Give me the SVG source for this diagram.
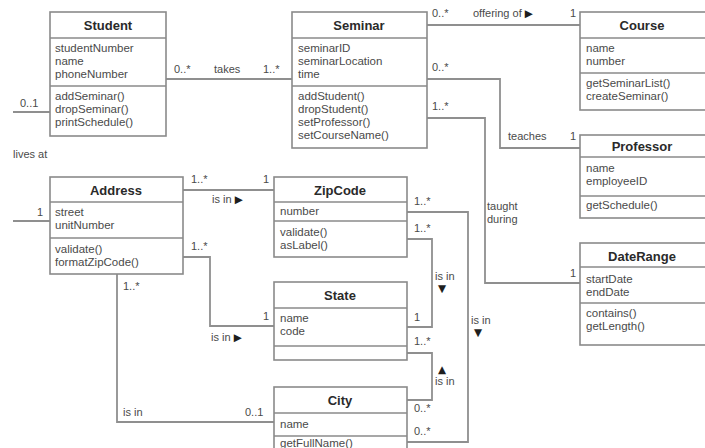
<svg xmlns="http://www.w3.org/2000/svg" width="705" height="448" viewBox="0 0 705 448">
  <style>
    .box { fill: #ffffff; stroke: #8a8a8a; stroke-width: 1.6; }
    .sep { stroke: #8a8a8a; stroke-width: 1.6; }
    .title { font-family: "Liberation Sans", "DejaVu Sans", sans-serif; font-weight: bold; font-size: 13px; fill: #2a2a2a; text-anchor: middle; }
    .txt { font-family: "Liberation Sans", "DejaVu Sans", sans-serif; font-size: 11.5px; fill: #4a4a4a; }
    .lbl { font-family: "Liberation Sans", "DejaVu Sans", sans-serif; font-size: 11px; fill: #4a4a4a; }
    .arw { font-family: "DejaVu Sans", sans-serif; font-size: 10.5px; fill: #1e1e1e; }
    .conn { fill: none; stroke: #8f8f8f; stroke-width: 1.8; }
  </style>

  <rect width="705" height="448" fill="#ffffff"/>

  <!-- associations -->
  <g id="connectors">
    <path class="conn" d="M166,79 H292"/>
    <path class="conn" d="M13,112 H50"/>
    <path class="conn" d="M13,221 H50"/>
    <path class="conn" d="M427,25 H580"/>
    <path class="conn" d="M427,79 H500 V148 H580"/>
    <path class="conn" d="M427,118 H485 V283 H580"/>
    <path class="conn" d="M183,190 H274" stroke-width="2.6"/>
    <path class="conn" d="M183,257 H210 V326 H274"/>
    <path class="conn" d="M117,274 V422 H274"/>
    <path class="conn" d="M407,239 H432 V327 H407"/>
    <path class="conn" d="M407,353 H432 V400 H407"/>
    <path class="conn" d="M407,212 H468 V442 H407"/>

    <!-- multiplicities and role names -->
    <text class="lbl" x="174" y="73">0..*</text>
    <text class="lbl" x="214" y="73">takes</text>
    <text class="lbl" x="263" y="73">1..*</text>
    <text class="lbl" x="20" y="107">0..1</text>
    <text class="lbl" x="13" y="158">lives at</text>
    <text class="lbl" x="37" y="216">1</text>

    <text class="lbl" x="191" y="183">1..*</text>
    <text class="lbl" x="263" y="183">1</text>
    <text class="lbl" x="212" y="203">is in <tspan class="arw">▶</tspan></text>
    <text class="lbl" x="191" y="250">1..*</text>
    <text class="lbl" x="263" y="320">1</text>
    <text class="lbl" x="211" y="341">is in <tspan class="arw">▶</tspan></text>
    <text class="lbl" x="123" y="290">1..*</text>
    <text class="lbl" x="123" y="416">is in</text>
    <text class="lbl" x="245" y="416">0..1</text>

    <text class="lbl" x="414" y="205">1..*</text>
    <text class="lbl" x="414" y="232">1..*</text>
    <text class="lbl" x="435" y="280">is in</text>
    <text class="arw" x="438" y="292">▼</text>
    <text class="lbl" x="414" y="321">1</text>
    <text class="lbl" x="414" y="345">1..*</text>
    <text class="arw" x="438" y="373">▲</text>
    <text class="lbl" x="435" y="385">is in</text>
    <text class="lbl" x="471" y="324">is in</text>
    <text class="arw" x="474" y="336">▼</text>
    <text class="lbl" x="414" y="412">0..*</text>
    <text class="lbl" x="414" y="435">0..*</text>

    <text class="lbl" x="432" y="17">0..*</text>
    <text class="lbl" x="473" y="17">offering of <tspan class="arw">▶</tspan></text>
    <text class="lbl" x="570" y="17">1</text>
    <text class="lbl" x="432" y="71">0..*</text>
    <text class="lbl" x="432" y="110">1..*</text>
    <text class="lbl" x="508" y="140">teaches</text>
    <text class="lbl" x="570" y="140">1</text>
    <text class="lbl" x="487" y="210">taught</text>
    <text class="lbl" x="487" y="223">during</text>
    <text class="lbl" x="570" y="277">1</text>
  </g>

  <g id="student">
    <rect class="box" x="50" y="12" width="116" height="124"/>
    <line class="sep" x1="50" y1="38" x2="166" y2="38"/>
    <line class="sep" x1="50" y1="86" x2="166" y2="86"/>
    <text class="title" x="108" y="30">Student</text>
    <text class="txt" x="55" y="52">studentNumber</text>
    <text class="txt" x="55" y="65">name</text>
    <text class="txt" x="55" y="78">phoneNumber</text>
    <text class="txt" x="55" y="100">addSeminar()</text>
    <text class="txt" x="55" y="113">dropSeminar()</text>
    <text class="txt" x="55" y="126">printSchedule()</text>
  </g>

  <g id="seminar">
    <rect class="box" x="292" y="12" width="135" height="136"/>
    <line class="sep" x1="292" y1="38" x2="427" y2="38"/>
    <line class="sep" x1="292" y1="86" x2="427" y2="86"/>
    <text class="title" x="359" y="30">Seminar</text>
    <text class="txt" x="298" y="52">seminarID</text>
    <text class="txt" x="298" y="65">seminarLocation</text>
    <text class="txt" x="298" y="78">time</text>
    <text class="txt" x="298" y="100">addStudent()</text>
    <text class="txt" x="298" y="113">dropStudent()</text>
    <text class="txt" x="298" y="126">setProfessor()</text>
    <text class="txt" x="298" y="139">setCourseName()</text>
  </g>

  <g id="course">
    <rect class="box" x="580" y="12" width="140" height="98"/>
    <line class="sep" x1="580" y1="38" x2="720" y2="38"/>
    <line class="sep" x1="580" y1="73" x2="720" y2="73"/>
    <text class="title" x="642" y="30">Course</text>
    <text class="txt" x="586" y="52">name</text>
    <text class="txt" x="586" y="65">number</text>
    <text class="txt" x="586" y="87">getSeminarList()</text>
    <text class="txt" x="586" y="100">createSeminar()</text>
  </g>

  <g id="professor">
    <rect class="box" x="580" y="135" width="140" height="83"/>
    <line class="sep" x1="580" y1="157" x2="720" y2="157"/>
    <line class="sep" x1="580" y1="196" x2="720" y2="196"/>
    <text class="title" x="642" y="151">Professor</text>
    <text class="txt" x="586" y="172">name</text>
    <text class="txt" x="586" y="185">employeeID</text>
    <text class="txt" x="586" y="209">getSchedule()</text>
  </g>

  <g id="daterange">
    <rect class="box" x="580" y="243" width="140" height="102"/>
    <line class="sep" x1="580" y1="267" x2="720" y2="267"/>
    <line class="sep" x1="580" y1="303" x2="720" y2="303"/>
    <text class="title" x="642" y="261">DateRange</text>
    <text class="txt" x="586" y="283">startDate</text>
    <text class="txt" x="586" y="296">endDate</text>
    <text class="txt" x="586" y="317">contains()</text>
    <text class="txt" x="586" y="330">getLength()</text>
  </g>

  <g id="address">
    <rect class="box" x="50" y="177" width="133" height="97"/>
    <line class="sep" x1="50" y1="202" x2="183" y2="202"/>
    <line class="sep" x1="50" y1="238" x2="183" y2="238"/>
    <text class="title" x="116" y="195">Address</text>
    <text class="txt" x="55" y="216">street</text>
    <text class="txt" x="55" y="229">unitNumber</text>
    <text class="txt" x="55" y="253">validate()</text>
    <text class="txt" x="55" y="266">formatZipCode()</text>
  </g>

  <g id="zipcode">
    <rect class="box" x="274" y="177" width="133" height="80"/>
    <line class="sep" x1="274" y1="202" x2="407" y2="202"/>
    <line class="sep" x1="274" y1="221" x2="407" y2="221"/>
    <text class="title" x="340" y="195">ZipCode</text>
    <text class="txt" x="280" y="215">number</text>
    <text class="txt" x="280" y="236">validate()</text>
    <text class="txt" x="280" y="249">asLabel()</text>
  </g>

  <g id="state">
    <rect class="box" x="274" y="282" width="133" height="78"/>
    <line class="sep" x1="274" y1="308" x2="407" y2="308"/>
    <line class="sep" x1="274" y1="346" x2="407" y2="346"/>
    <text class="title" x="340" y="300">State</text>
    <text class="txt" x="280" y="322">name</text>
    <text class="txt" x="280" y="335">code</text>
  </g>

  <g id="city">
    <rect class="box" x="274" y="387" width="133" height="80"/>
    <line class="sep" x1="274" y1="413" x2="407" y2="413"/>
    <line class="sep" x1="274" y1="436" x2="407" y2="436"/>
    <text class="title" x="340" y="405">City</text>
    <text class="txt" x="280" y="428">name</text>
    <text class="txt" x="280" y="447">getFullName()</text>
  </g>
</svg>
